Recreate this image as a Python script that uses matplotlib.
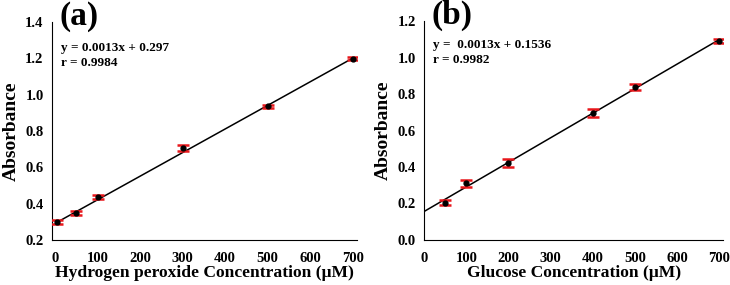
"""Calibration curves: H2O2 and glucose absorbance vs concentration."""

import matplotlib
matplotlib.use("Agg")
import matplotlib.pyplot as plt
import numpy as np

plt.rcParams["font.family"] = ["Liberation Serif", "DejaVu Serif"]
plt.rcParams["font.weight"] = "bold"

# panel (a): hydrogen peroxide
h2o2_conc = [5, 50, 100, 300, 500, 700]
h2o2_abs = [0.300, 0.347, 0.438, 0.706, 0.935, 1.197]
h2o2_err = [0.010, 0.012, 0.012, 0.014, 0.010, 0.008]
h2o2_fit = (0.0013, 0.297)

# panel (b): glucose
glu_conc = [50, 100, 200, 400, 500, 700]
glu_abs = [0.205, 0.310, 0.422, 0.697, 0.838, 1.091]
glu_err = [0.015, 0.020, 0.020, 0.022, 0.015, 0.012]

x_ticks = [0, 100, 200, 300, 400, 500, 600, 700]


def _panel(ax, x, y, err, fit_x, fit_y, ylim, yticks, xlim, xlabel, eq, r_text, tag, ty):
    ax.plot(fit_x, fit_y, color="black", linewidth=1.1, zorder=2)
    ax.errorbar(x, y, yerr=err, fmt="o", color="black", markersize=3.5,
                ecolor="#e8161b", elinewidth=1.8, capsize=4, capthick=1.8, zorder=3)
    ax.set_xlim(*xlim)
    ax.set_ylim(*ylim)
    ax.set_xticks(x_ticks)
    ax.set_yticks(yticks)
    ax.set_yticklabels([f"{v:.1f}" for v in yticks])
    ax.tick_params(length=0, labelsize=10.5)
    ax.tick_params(axis="x", pad=9)
    ax.tick_params(axis="y", pad=6)
    for lab in ax.get_xticklabels() + ax.get_yticklabels():
        lab.set_fontweight("bold")
    ax.spines["top"].set_visible(False)
    ax.spines["right"].set_visible(False)
    ax.set_xlabel(xlabel, fontsize=12.6, fontweight="bold", labelpad=0)
    ax.set_ylabel("Absorbance", fontsize=14, fontweight="bold", labelpad=4)
    ax.text(0.03, ty[0], eq, transform=ax.transAxes, fontsize=9.5,
            fontweight="bold", va="center")
    ax.text(0.03, ty[1], r_text, transform=ax.transAxes, fontsize=9.5,
            fontweight="bold", va="center")
    ax.text(0.025, ty[2], tag, transform=ax.transAxes, fontsize=24, fontweight="bold",
            va="center", ha="left")


fig = plt.figure(figsize=(7.3, 2.85), dpi=100)
ax_a = fig.add_axes([0.0712, 0.158, 0.418, 0.765])
ax_b = fig.add_axes([0.581, 0.158, 0.410, 0.768])

fx_a = np.array([5, 700])
_panel(ax_a, h2o2_conc, h2o2_abs, h2o2_err, fx_a, h2o2_fit[0] * fx_a + h2o2_fit[1] - 0.006,
       (0.2, 1.4), [0.2, 0.4, 0.6, 0.8, 1.0, 1.2, 1.4], (-7, 710),
       "Hydrogen peroxide Concentration (\u03bcM)", "y = 0.0013x + 0.297", "r = 0.9984",
       "(a)", (0.881, 0.812, 1.025))

slope_b, icpt_b = np.polyfit(glu_conc, glu_abs, 1)
fx_b = np.array([0, 700])
_panel(ax_b, glu_conc, glu_abs, glu_err, fx_b, slope_b * fx_b + icpt_b,
       (0.0, 1.2), [0.0, 0.2, 0.4, 0.6, 0.8, 1.0, 1.2], (0, 710),
       "Glucose Concentration (\u03bcM)", "y =  0.0013x + 0.1536", "r = 0.9982",
       "(b)", (0.89, 0.822, 1.025))

fig.savefig("out.png", dpi=100)
